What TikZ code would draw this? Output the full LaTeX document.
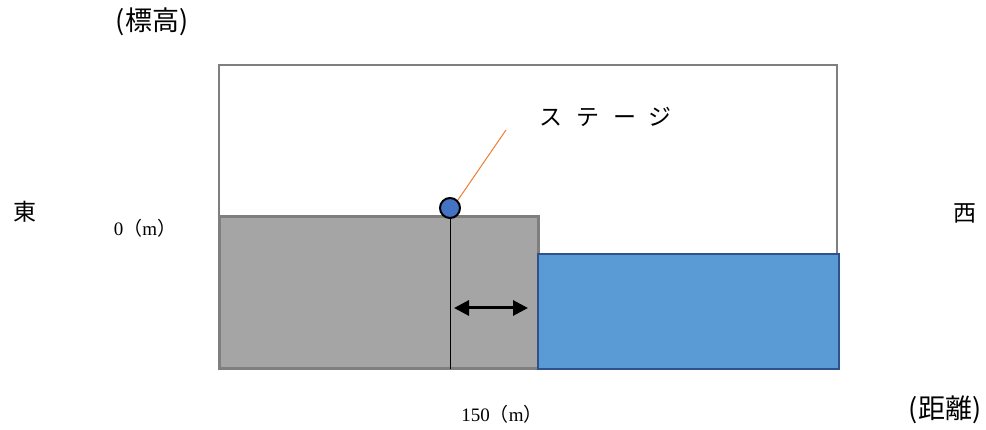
\documentclass[tikz,border=0pt]{standalone}
\usepackage{fontspec}
\setmainfont{Liberation Serif}
\newfontfamily\jpfont{Noto Sans CJK JP}
\usepackage{tikz}
\usetikzlibrary{arrows.meta,positioning,calc}
\usepackage{xcolor}

\definecolor{groundgray}{RGB}{165,165,165}
\definecolor{edgegray}{RGB}{127,127,127}
\definecolor{waterblue}{RGB}{91,155,213}
\definecolor{wateredge}{RGB}{47,82,143}
\definecolor{stageblue}{RGB}{68,114,196}
\definecolor{leadorange}{RGB}{237,125,49}

\tikzset{
  axislabel/.style={font=\jpfont\fontsize{27}{27}\selectfont, inner sep=0pt},
  sidelabel/.style={font=\jpfont\fontsize{23}{23}\selectfont, inner sep=0pt},
  numlabel/.style={font=\fontsize{19}{19}\selectfont, inner sep=0pt},
}

\begin{document}
\begin{tikzpicture}[x=1pt, y=-1pt, >=Stealth]
  \useasboundingbox (0,0) rectangle (986,430);

  % Define the frame and the blocks
  \draw[edgegray, line width=2pt] (219,65) rectangle (837,254);
  \draw[edgegray, fill=groundgray, line width=3pt] (219,217) rectangle (538,369);
  \draw[wateredge, fill=waterblue, line width=2.5pt] (538,254) rectangle (839,369);

  % Define coordinates for nodes
  \node[circle, draw=black, fill=stageblue, line width=2pt, minimum width=20pt,
        minimum height=18pt, inner sep=0pt] (stage) at (450,208) {};
  \node[font=\jpfont\fontsize{23}{23}\selectfont, inner sep=0pt, anchor=west]
        (stagetxt) at (539,117) {ス\hspace{14pt}テ\hspace{14pt}ー\hspace{12pt}ジ};
  \coordinate (leadend) at (506,130);
  \coordinate (base) at (450,369);
  \coordinate (arrl) at (454,308);
  \coordinate (arrr) at (528,308);

  \node[axislabel] (height) at (152,22) {(標高)};
  \node[axislabel] (dist) at (945,410) {(距離)};
  \node[sidelabel] (east) at (25,212) {東};
  \node[sidelabel] (west) at (965,213) {西};
  \node[numlabel] (zero) at (145,228) {0{\jpfont （}m{\jpfont ）}};
  \node[numlabel] (dist150) at (502,414) {150{\jpfont （}m{\jpfont ）}};

  % Draw lines between nodes
  \draw[black, line width=1pt] (stage.south) -- (base);
  \draw[leadorange, line width=1pt] (stage.north east) -- (leadend);
  \draw[line width=3pt, arrows={Triangle[length=15pt,width=15pt]-Triangle[length=15pt,width=15pt]}] (arrl) -- (arrr);
\end{tikzpicture}
\end{document}
